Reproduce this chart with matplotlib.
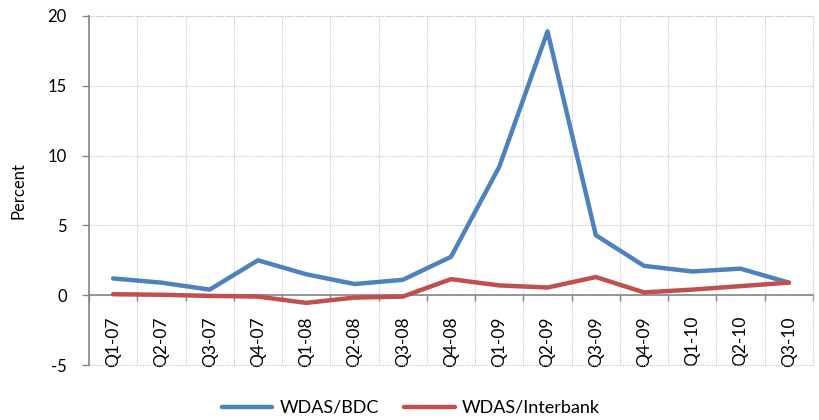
import matplotlib
matplotlib.use("Agg")
import matplotlib.pyplot as plt
import numpy as np

categories = ["Q1-07", "Q2-07", "Q3-07", "Q4-07", "Q1-08", "Q2-08", "Q3-08", "Q4-08",
              "Q1-09", "Q2-09", "Q3-09", "Q4-09", "Q1-10", "Q2-10", "Q3-10"]
wdas_bdc = [1.2, 0.9, 0.4, 2.5, 1.5, 0.8, 1.1, 2.75, 9.2, 18.9, 4.3, 2.1, 1.7, 1.9, 0.9]
wdas_interbank = [0.07, 0.03, -0.05, -0.1, -0.55, -0.17, -0.1, 1.15, 0.7, 0.55, 1.3, 0.2, 0.4, 0.65, 0.9]
y_ticks = [-5, 0, 5, 10, 15, 20]

plt.rcParams['font.family'] = ['Lato', 'DejaVu Sans']

fig = plt.figure(figsize=(8.2, 4.2), dpi=100)
ax = fig.add_axes([89/820, 1-365/420, (813-89)/820, (365-16)/420])

x = np.arange(len(categories))
ax.plot(x, wdas_bdc, color='#4F81BD', lw=3.2, label='WDAS/BDC', solid_capstyle='round', zorder=3)
ax.plot(x, wdas_interbank, color='#C0504D', lw=3.2, label='WDAS/Interbank', solid_capstyle='round', zorder=3)

ax.set_xlim(-0.5, len(categories) - 0.5)
ax.set_ylim(-5, 20)
ax.set_yticks(y_ticks)
ax.set_yticklabels([str(v) for v in y_ticks])

ax.set_xticks(x)
ax.set_xticklabels(categories)
ax.set_xticks(np.arange(-0.5, len(categories)), minor=True)
ax.tick_params(axis='x', which='major', length=0, pad=15, labelrotation=90, labelsize=12.5)
ax.tick_params(axis='x', which='minor', length=4, width=1, color='#868686', direction='out')
ax.tick_params(axis='y', length=5, width=1, color='#868686', pad=11, labelsize=12)

ax.spines['bottom'].set_position(('data', 0))
for s in ['top', 'right']:
    ax.spines[s].set_visible(False)
for s in ['left', 'bottom']:
    ax.spines[s].set_color('#868686')
    ax.spines[s].set_linewidth(1.2)

grid_kw = dict(color='#c8c8c8', lw=0.8, linestyle=(0, (1, 1)))
ax.grid(True, axis='y', which='major', **grid_kw)
ax.grid(True, axis='x', which='minor', **grid_kw)
ax.grid(False, axis='x', which='major')
# frame edges drawn as dotted lines (top, bottom, right) like the gridlines
ax.axhline(20, clip_on=False, zorder=1, **grid_kw)
ax.axhline(-5, clip_on=False, zorder=1, **grid_kw)
ax.axvline(len(categories) - 0.5, clip_on=False, zorder=1, **grid_kw)
ax.set_axisbelow(True)

ax.set_ylabel('Percent', fontsize=12)
ax.yaxis.set_label_coords(-0.087, 0.5)

fig.legend(loc='center', bbox_to_anchor=(0.501, 0.029), ncol=2, frameon=False,
           fontsize=13, handlelength=2.8, columnspacing=1.4, handletextpad=0.4)

fig.savefig('out.png', dpi=100)
